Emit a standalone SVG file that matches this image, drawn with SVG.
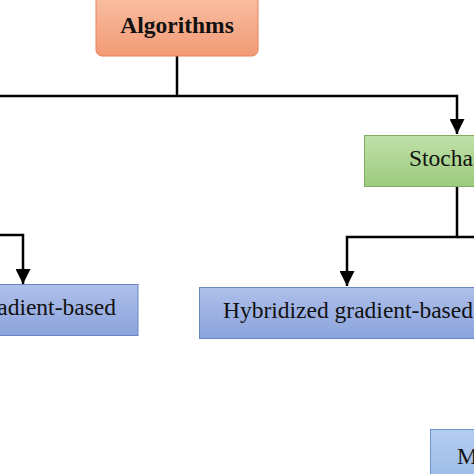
<svg xmlns="http://www.w3.org/2000/svg" width="474" height="474" viewBox="0 0 474 474">
<defs>
<linearGradient id="gOr" x1="0" y1="0" x2="0" y2="1"><stop offset="0" stop-color="#f9c0a4"/><stop offset="1" stop-color="#f29a75"/></linearGradient>
<linearGradient id="gGr" x1="0" y1="0" x2="0" y2="1"><stop offset="0" stop-color="#bfe0a8"/><stop offset="1" stop-color="#9ccb7e"/></linearGradient>
<linearGradient id="gBl" x1="0" y1="0" x2="0" y2="1"><stop offset="0" stop-color="#aebfe9"/><stop offset="1" stop-color="#8ba4dd"/></linearGradient>
<linearGradient id="gBl2" x1="0" y1="0" x2="0" y2="1"><stop offset="0" stop-color="#b4cdf0"/><stop offset="1" stop-color="#98b8e6"/></linearGradient>
<marker id="arr" viewBox="0 0 10 10" refX="10" refY="5" markerWidth="6" markerHeight="6" markerUnits="strokeWidth" orient="auto"><path d="M0,0 L10,5 L0,10 Z" fill="#000"/></marker>
<style>
.t{font-family:"Liberation Serif","Times New Roman",serif;font-size:23.5px;fill:#111}
.b{font-weight:bold}
.c{fill:none;stroke:#000;stroke-width:2.5}
</style>
</defs>
<g id="connectors">
<path class="c" d="M177,56 V96"/>
<path class="c" d="M0,96 H457 V134" marker-end="url(#arr)"/>
<path class="c" d="M457,187 V237 H347 V286" marker-end="url(#arr)"/>
<path class="c" d="M457,237 H474"/>
<path class="c" d="M0,235 H23 V284" marker-end="url(#arr)"/>
</g>
<g id="algorithms">
<rect x="96" y="-6" width="162" height="62" rx="6" fill="url(#gOr)" stroke="#e3835d" stroke-width="1"/>
<text class="t b" x="177" y="33" text-anchor="middle">Algorithms</text>
</g>
<g id="stochastic">
<rect x="364.5" y="135.5" width="120" height="51" fill="url(#gGr)" stroke="#7fae60" stroke-width="1"/>
<text class="t" x="409" y="166">Stochastic</text>
</g>
<g id="gradient">
<rect x="-20" y="284.5" width="158" height="51" fill="url(#gBl)" stroke="#6a86c6" stroke-width="1"/>
<text class="t" x="116" y="315" text-anchor="end">Gradient-based</text>
</g>
<g id="hybridized">
<rect x="199.5" y="287.5" width="290" height="51" fill="url(#gBl)" stroke="#6a86c6" stroke-width="1"/>
<text class="t" x="223" y="318">Hybridized gradient-based</text>
</g>
<g id="meta">
<rect x="430.5" y="429.5" width="60" height="60" fill="url(#gBl2)" stroke="#6f93cc" stroke-width="1"/>
<text class="t" x="457" y="464">M</text>
</g>
</svg>
